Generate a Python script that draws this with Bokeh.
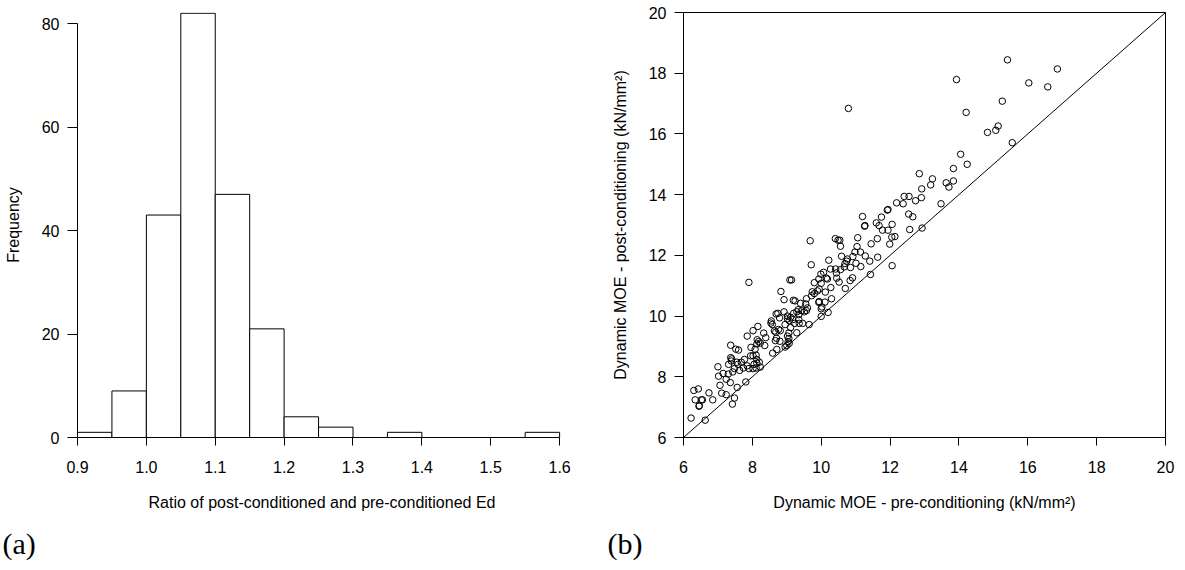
from bokeh.plotting import figure
from bokeh.layouts import row
from bokeh.models import FixedTicker, PrintfTickFormatter, Title
from bokeh.embed import file_html
from bokeh.resources import INLINE

# ---------------- data ----------------
bin_edges = [0.90, 0.95, 1.00, 1.05, 1.10, 1.15, 1.20, 1.25, 1.30, 1.35, 1.40, 1.45, 1.50, 1.55, 1.60]
counts = [1, 9, 43, 82, 47, 21, 4, 2, 0, 1, 0, 0, 0, 1]
hist_xticks = [0.9, 1.0, 1.1, 1.2, 1.3, 1.4, 1.5, 1.6]
hist_yticks = [0, 20, 40, 60, 80]

moe_ticks = [6, 8, 10, 12, 14, 16, 18, 20]
diag = [6, 20]

pre_moe = [
    15.41, 13.93, 16.86, 16.03, 16.58, 15.26, 10.79, 14.21,
    14.83, 15.07, 15.14, 15.55, 14.05, 14.24, 13.84, 12.85,
    13.23, 13.18, 13.63, 13.71, 13.84, 12.92, 12.91, 12.74,
    12.41, 12.55, 12.19, 12.38, 13.48, 11.92, 11.94, 11.20,
    12.54, 12.66, 11.75, 11.26, 11.27, 12.06, 11.60, 11.68,
    11.78, 11.94, 12.57, 12.93, 12.05, 12.14, 11.63, 11.06,
    11.45, 11.99, 10.41, 10.49, 10.54, 9.68, 10.56, 11.04,
    10.98, 11.14, 11.28, 11.41, 11.64, 10.59, 10.92, 10.76,
    10.74, 11.15, 10.85, 12.06, 9.71, 10.22, 10.69, 10.67,
    11.01, 10.27, 10.42, 10.56, 10.07, 9.99, 10.44, 11.43,
    10.45, 10.84, 10.91, 10.15, 10.18, 10.52, 9.80, 9.93,
    10.00, 7.90, 9.09, 9.14, 10.70, 10.28, 9.74, 9.80,
    9.94, 9.89, 8.83, 10.12, 9.72, 9.57, 10.30, 9.19,
    9.24, 8.92, 9.94, 9.93, 10.11, 9.40, 9.55, 10.02,
    10.00, 9.60, 9.43, 9.51, 9.57, 9.29, 9.33, 9.20,
    9.35, 10.20, 8.92, 8.69, 8.74, 8.55, 8.58, 8.54,
    8.79, 9.02, 9.02, 9.07, 9.11, 9.17, 9.35, 9.36,
    9.46, 9.23, 8.95, 10.00, 9.65, 8.76, 8.81, 8.64,
    8.68, 9.06, 9.29, 9.11, 8.16, 7.85, 8.02, 8.33,
    8.14, 8.18, 8.39, 8.70, 8.67, 8.80, 9.02, 9.06,
    9.04, 9.07, 8.23, 8.13, 8.36, 9.00, 7.96, 7.37,
    8.08, 8.71, 8.95, 7.52, 7.60, 8.59, 7.95, 8.02,
    8.11, 7.37, 7.40, 8.13, 7.39, 7.68, 7.77, 7.55,
    7.58, 7.85, 7.90, 8.05, 8.13, 8.20, 8.23, 7.31,
    7.74, 7.63, 8.02, 8.11, 7.48, 7.43, 7.00, 7.02,
    7.15, 7.24, 7.30, 7.36, 7.81, 7.56, 7.06, 6.74,
    6.30, 6.43, 6.34, 6.52, 6.55, 6.85, 6.45, 6.46,
    7.11, 7.24, 7.48, 7.42, 6.22, 6.63,
]
post_moe = [
    18.44, 17.79, 18.14, 17.68, 17.55, 17.08, 16.84, 16.71,
    16.05, 16.12, 16.26, 15.71, 15.33, 15.00, 14.86, 14.69,
    14.52, 14.32, 14.39, 14.25, 14.45, 14.19, 13.90, 13.80,
    13.94, 13.94, 13.73, 13.70, 13.70, 13.49, 13.51, 13.28,
    13.36, 13.27, 13.26, 12.96, 12.98, 13.02, 13.07, 12.98,
    12.83, 12.83, 12.85, 12.90, 12.60, 12.62, 12.55, 12.58,
    12.38, 12.37, 12.55, 12.50, 12.50, 12.48, 12.30, 12.29,
    12.11, 12.11, 11.98, 11.81, 11.94, 11.97, 11.96, 11.88,
    11.81, 11.63, 11.60, 11.66, 11.69, 11.84, 11.73, 11.62,
    11.74, 11.55, 11.55, 11.53, 11.44, 11.38, 11.42, 11.37,
    11.25, 11.17, 11.26, 11.25, 11.22, 11.12, 11.10, 11.22,
    11.08, 11.11, 11.19, 11.19, 10.91, 10.94, 10.80, 10.74,
    10.89, 10.83, 10.81, 10.79, 10.67, 10.57, 10.57, 10.52,
    10.50, 10.54, 10.48, 10.45, 10.46, 10.42, 10.40, 10.30,
    10.24, 10.27, 10.18, 10.14, 10.18, 10.14, 10.21, 10.09,
    10.05, 10.12, 10.14, 10.07, 10.09, 9.84, 9.72, 9.77,
    9.94, 10.00, 9.91, 9.85, 9.96, 9.88, 9.88, 9.76,
    9.76, 9.76, 9.72, 9.99, 9.72, 9.56, 9.52, 9.51,
    9.47, 9.44, 9.45, 9.62, 9.66, 9.34, 9.52, 9.44,
    9.22, 9.16, 9.29, 9.27, 9.19, 9.17, 9.34, 9.26,
    9.16, 9.10, 9.11, 9.08, 9.03, 9.03, 8.97, 9.04,
    8.91, 8.90, 8.98, 8.91, 8.88, 8.78, 8.69, 8.69,
    8.71, 8.63, 8.59, 8.57, 8.52, 8.48, 8.57, 8.48,
    8.41, 8.36, 8.27, 8.41, 8.45, 8.48, 8.32, 8.41,
    8.29, 8.21, 8.27, 8.29, 8.27, 8.16, 8.33, 8.02,
    8.11, 7.92, 8.09, 7.81, 7.83, 7.65, 7.72, 7.47,
    7.55, 7.60, 7.24, 7.24, 7.24, 7.24, 7.03, 7.05,
    7.46, 7.41, 7.30, 7.10, 6.64, 6.57,
]

SANS = "Liberation Sans"
SERIF = "Liberation Serif"


def style_axis(ax, tick_out, label_standoff, axis_standoff):
    ax.axis_line_color = "black"
    ax.axis_line_width = 1
    ax.major_tick_line_color = "black"
    ax.major_tick_out = tick_out
    ax.major_tick_in = 0
    ax.minor_tick_line_color = None
    ax.major_label_text_font = SANS
    ax.major_label_text_font_size = "16px"
    ax.major_label_text_color = "black"
    ax.major_label_standoff = label_standoff
    ax.axis_label_text_font = SANS
    ax.axis_label_text_font_size = "16px"
    ax.axis_label_text_font_style = "normal"
    ax.axis_label_text_color = "black"
    ax.axis_label_standoff = axis_standoff


def panel_tag(text, offset):
    return Title(text=text, align="left", offset=offset, standoff=22,
                 text_font=SERIF, text_font_size="30px", text_font_style="normal",
                 text_color="black")


# ---------------- (a) histogram ----------------
p1 = figure(width=600, height=570, x_range=(0.9, 1.61), y_range=(0, 82.15),
            output_backend="svg", toolbar_location=None,
            min_border_left=77, min_border_right=34, min_border_top=12, min_border_bottom=133)
p1.outline_line_color = None
p1.grid.visible = False
p1.background_fill_color = "white"
p1.border_fill_color = "white"

p1.quad(left=bin_edges[:-1], right=bin_edges[1:], bottom=0, top=counts,
        fill_color="white", line_color="black", line_width=1)

p1.xaxis.ticker = FixedTicker(ticks=hist_xticks)
p1.xaxis.formatter = PrintfTickFormatter(format="%.1f")
p1.xaxis.bounds = (hist_xticks[0], hist_xticks[-1])
p1.xaxis.axis_label = "Ratio of post-conditioned and pre-conditioned Ed"
p1.yaxis.ticker = FixedTicker(ticks=hist_yticks)
p1.yaxis.bounds = (hist_yticks[0], hist_yticks[-1])
p1.yaxis.axis_label = "Frequency"
style_axis(p1.xaxis[0], 8, 15, 18)
style_axis(p1.yaxis[0], 10, 8, 17)
p1.add_layout(panel_tag("(a)", -75), "below")

# ---------------- (b) scatter ----------------
p2 = figure(width=585, height=570, x_range=(6, 20), y_range=(6, 20),
            output_backend="svg", toolbar_location=None,
            min_border_left=83, min_border_right=20, min_border_top=12, min_border_bottom=133)
p2.outline_line_color = "black"
p2.outline_line_width = 1
p2.grid.visible = False
p2.background_fill_color = "white"
p2.border_fill_color = "white"

p2.line(diag, diag, line_color="black", line_width=1)
p2.scatter(pre_moe, post_moe, marker="circle", size=6.5, fill_color=None,
           line_color="black", line_width=1)

p2.xaxis.ticker = FixedTicker(ticks=moe_ticks)
p2.yaxis.ticker = FixedTicker(ticks=moe_ticks)
p2.xaxis.axis_label = "Dynamic MOE - pre-conditioning (kN/mm\u00b2)"
p2.yaxis.axis_label = "Dynamic MOE - post-conditioning (kN/mm\u00b2)"
style_axis(p2.xaxis[0], 8, 15, 18)
style_axis(p2.yaxis[0], 9, 8, 17)
p2.add_layout(panel_tag("(b)", -76), "below")

layout = row(p1, p2)
open("out.html", "w").write(file_html(layout, INLINE))
